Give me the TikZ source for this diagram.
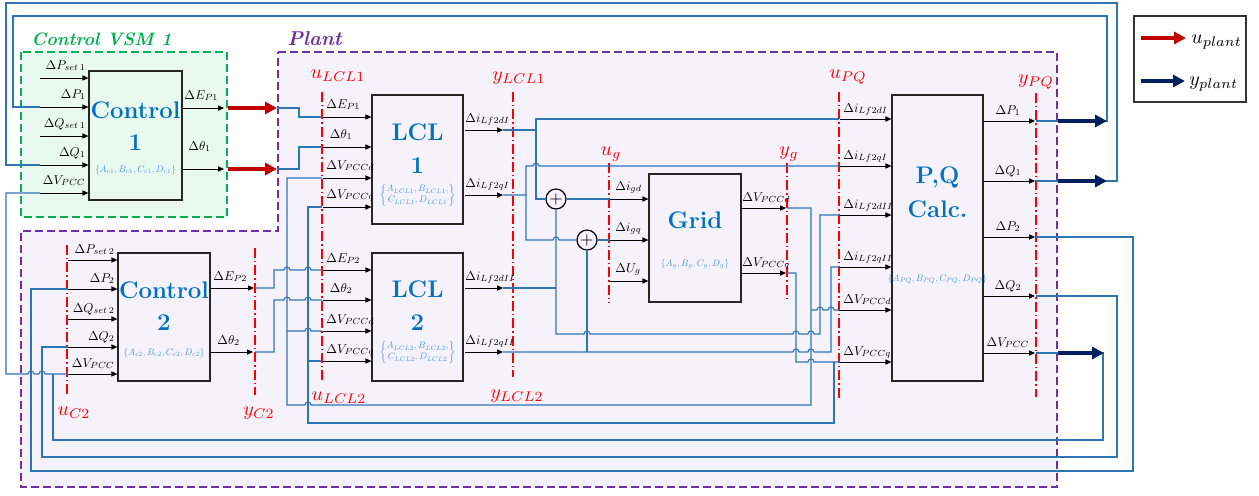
\documentclass[tikz,border=0pt]{standalone}
\usepackage{graphicx}
\usetikzlibrary{arrows.meta}
\definecolor{wireblue}{RGB}{46,117,182}
\definecolor{ttlblue}{RGB}{0,112,192}
\definecolor{parblue}{RGB}{74,150,215}
\definecolor{vsmgreen}{RGB}{0,176,80}
\definecolor{plantpurple}{RGB}{112,48,160}
\definecolor{uplant}{RGB}{192,0,0}
\definecolor{yplant}{RGB}{0,32,96}
\definecolor{greenfill}{RGB}{232,250,240}
\definecolor{purplefill}{RGB}{246,242,251}
\tikzset{
  blk/.style={draw=black!85, line width=0.6pt, inner sep=0pt},
  sig/.style={-{Triangle[length=3pt,width=2.6pt]}, line width=0.45pt},
  wire/.style={wireblue, line width=0.55pt},
  cutline/.style={red, line width=0.8pt, dash pattern=on 5pt off 1.5pt on 0.7pt off 1.5pt},
  cutlbl/.style={red, font=\fontsize{10}{11}\selectfont, anchor=base, inner sep=0pt},
  lbl/.style={inner sep=0pt},
  ttl/.style={ttlblue, font=\fontsize{12}{13}\selectfont\bfseries, anchor=base, inner sep=0pt},
  par/.style={parblue, inner sep=0pt},
  fat/.style={line width=2pt, -{Triangle[length=6pt,width=6pt]}},
  sumnode/.style={circle, draw, line width=0.6pt, fill=purplefill, minimum size=10pt, inner sep=0pt, font=\fontsize{8}{8}\selectfont},
}
% port label and parameter set, set small
\newcommand{\plab}[1]{\scalebox{0.64}{$#1$}}
\newcommand{\parset}[1]{\scalebox{0.47}{$#1$}}
% small hop over a crossing wire (left to right)
\newcommand{\hop}[2]{-- ({#1-3},#2) arc[start angle=180,end angle=0,radius=1.5pt]}
\begin{document}
\begin{tikzpicture}[x=0.5pt,y=-0.5pt]
  \useasboundingbox (0,0) rectangle (1259,495);
  % regions
  \fill[greenfill] (21,52) rectangle (227,217);
  \draw[vsmgreen, line width=0.9pt, dash pattern=on 4pt off 2pt] (21,52) rectangle (227,217);
  \fill[purplefill] (278,52) -- (1057,52) -- (1057,487) -- (21,487) -- (21,231) -- (278,231) -- cycle;
  \draw[plantpurple, line width=0.9pt, dash pattern=on 4pt off 2pt] (278,52) -- (1057,52) -- (1057,487) -- (21,487) -- (21,231) -- (278,231) -- cycle;
  \node[vsmgreen, font=\fontsize{10}{12}\selectfont\bfseries\itshape, anchor=base west, inner sep=0pt] (vsmttl) at (31,45) {\scalebox{0.9}{Control VSM 1}};
  \node[plantpurple, font=\fontsize{10}{12}\selectfont\bfseries\itshape, anchor=base west, inner sep=0pt] (plantttl) at (287,45) {Plant};

  % blocks
  \node[blk, fill=greenfill, minimum width=46.5pt, minimum height=64.5pt] (ctrlA) at (135.5,135.5) {};
  \node[blk, fill=purplefill, minimum width=46pt, minimum height=64pt] (ctrlB) at (164,317) {};
  \node[blk, fill=purplefill, minimum width=45.5pt, minimum height=64.5pt] (lclA) at (417.5,159.5) {};
  \node[blk, fill=purplefill, minimum width=45.5pt, minimum height=64pt] (lclB) at (417.5,317) {};
  \node[blk, fill=purplefill, minimum width=46pt, minimum height=64pt] (grid) at (695,238) {};
  \node[blk, fill=purplefill, minimum width=45.5pt, minimum height=143pt] (pq) at (937.5,238) {};
  \node[sumnode] (sumd) at (556,199) {$+$};
  \node[sumnode] (sumq) at (587,240) {$+$};

  \node[ttl] (ctrlAt) at (135.5,118) {Control};
  \node[ttl] (ctrlAn) at (135.5,150) {1};
  \node[par] (ctrlAp) at (135.5,170) {\parset{\{A_{c1},B_{c1},C_{c1},D_{c1}\}}};
  \node[ttl] (ctrlBt) at (164,298) {Control};
  \node[ttl] (ctrlBn) at (164,330) {2};
  \node[par] (ctrlBp) at (164,353) {\parset{\{A_{c2},B_{c2},C_{c2},D_{c2}\}}};
  \node[ttl] (lclAt) at (417.5,140) {LCL};
  \node[ttl] (lclAn) at (417.5,173) {1};
  \node[par] (lclAp) at (417.5,195) {\parset{\left\{\begin{array}{@{}c@{}}A_{LCL1},B_{LCL1},\\ C_{LCL1},D_{LCL1}\end{array}\right\}}};
  \node[ttl] (lclBt) at (417.5,297) {LCL};
  \node[ttl] (lclBn) at (417.5,330) {2};
  \node[par] (lclBp) at (417.5,352) {\parset{\left\{\begin{array}{@{}c@{}}A_{LCL2},B_{LCL2},\\ C_{LCL2},D_{LCL2}\end{array}\right\}}};
  \node[ttl] (gridt) at (695,228) {Grid};
  \node[par] (gridp) at (695,264) {\parset{\{A_g,B_g,C_g,D_g\}}};
  \node[ttl] (pqt) at (937.5,183) {P,Q};
  \node[ttl] (pqc) at (937.5,217) {Calc.};
  \node[par] (pqp) at (937.5,279) {\parset{\{A_{PQ},B_{PQ},C_{PQ},D_{PQ}\}}};

  % cut lines
  \draw[cutline] (67,245) -- (67,395);
  \draw[cutline] (255,248) -- (255,395);
  \draw[cutline] (322,92) -- (322,380);
  \draw[cutline] (513,92) -- (513,377);
  \draw[cutline] (609,163) -- (609,303);
  \draw[cutline] (787,163) -- (787,302);
  \draw[cutline] (839,92) -- (839,398);
  \draw[cutline] (1036,93) -- (1036,397);
  \node[cutlbl] (uctl) at (74,415) {$u_{C2}$};
  \node[cutlbl] (yctl) at (259,415) {$y_{C2}$};
  \node[cutlbl] (ulclA) at (338,78) {$u_{LCL1}$};
  \node[cutlbl] (ylclA) at (519,80) {$y_{LCL1}$};
  \node[cutlbl] (ulclB) at (339,400) {$u_{LCL2}$};
  \node[cutlbl] (ylclB) at (517,398) {$y_{LCL2}$};
  \node[cutlbl] (ugrid) at (611,155) {$u_g$};
  \node[cutlbl] (ygrid) at (789,155) {$y_g$};
  \node[cutlbl] (upq) at (848,78) {$u_{PQ}$};
  \node[cutlbl] (ypq) at (1036,83) {$y_{PQ}$};

  % wires
  \draw[wire] (277,108) -- (299,108) -- (299,117) -- (322,117);
  \draw[wire] (277,169) -- (299,169) -- (299,147) -- (322,147);
  \draw[wire] (1036,121) -- (1107,121) -- (1107,16) -- (13,16) -- (13,107) -- (40,107);
  \draw[wire] (1036,181) -- (1117,181) -- (1117,3) -- (6,3) -- (6,165) -- (40,165);
  \draw[wire] (1036,237) -- (1133,237) -- (1133,471) -- (31,471) -- (31,289) -- (68,289);
  \draw[wire] (1036,296) -- (1117,296) -- (1117,457) -- (42,457) -- (42,347) -- (68,347);
  \draw[wire] (1036,353) -- (1103,353) -- (1103,440) -- (53,440) -- (53,374);
  \draw[wire] (40,193) -- (6,193) -- (6,374) \hop{31}{374} \hop{42}{374} -- (68,374);
  \draw[wire] (255,288) -- (274,288) -- (274,270) \hop{287}{270} \hop{308}{270} -- (322,270);
  \draw[wire] (255,352) -- (274,352) -- (274,300) \hop{287}{300} \hop{308}{300} -- (322,300);
  \draw[wire] (322,178) -- (287,178) -- (287,405) \hop{308}{405} -- (811,405) -- (811,208) -- (787,208);
  \draw[wire] (287,331) \hop{308}{331} -- (322,331);
  \draw[wire] (811,310) \hop{820}{310} \hop{831}{310} -- (839,310);
  \draw[wire] (787,273) -- (796,273) -- (796,362) \hop{811}{362} -- (839,362);
  \draw[wire] (322,207) -- (308,207) -- (308,423) -- (834,423) -- (834,362);
  \draw[wire] (308,361) -- (322,361);
  \draw[wire] (503,130) -- (536,130) -- (536,119) -- (839,119);
  \draw[wire] (536,130) -- (536,199) -- (sumd.west);
  \draw[wire] (503,195) -- (526,195) -- (526,166) \hop{536}{166} -- (839,166);
  \draw[wire] (526,195) -- (526,240) \hop{556}{240} -- (sumq.west);
  \draw[wire] (sumd.east) -- (609,199);
  \draw[wire] (sumq.east) -- (609,240);
  \draw[wire] (sumd.south) -- (556,334) \hop{587}{334} \hop{796}{334} \hop{811}{334} -- (820,334) -- (820,215) -- (839,215);
  \draw[wire] (503,288) -- (556,288);
  \draw[wire] (503,352) \hop{796}{352} \hop{811}{352} -- (831,352) -- (831,267) -- (839,267);
  \draw[wire] (sumq.south) -- (587,352);

  % plant input / output arrows
  \draw[fat, uplant] (228,108) -- (277,108);
  \draw[fat, uplant] (228,169) -- (277,169);
  \draw[fat, yplant] (1058,121) -- (1107,121);
  \draw[fat, yplant] (1058,181) -- (1107,181);
  \draw[fat, yplant] (1058,353) -- (1104,353);

  % Control 1 ports
  \foreach \yy/\lab [count=\k] in {78/{\Delta P_{set\,1}}, 107/{\Delta P_1}, 136/{\Delta Q_{set\,1}}, 165/{\Delta Q_1}, 193/{\Delta V_{PCC}}}{
    \draw[sig] (40,\yy) -- (ctrlA.west |- 0,\yy);
    \node[lbl, anchor=base east] (inA\k) at (86,\yy-9) {\plab{\lab}};
  }
  \draw[sig] (ctrlA.east |- 0,108) -- (224,108);
  \node[lbl, anchor=base west] (outA1) at (184,99) {\plab{\Delta E_{P1}}};
  \draw[sig] (ctrlA.east |- 0,169) -- (224,169);
  \node[lbl, anchor=base west] (outA2) at (188,150) {\plab{\Delta\theta_1}};

  % Control 2 ports
  \foreach \yy/\lab [count=\k] in {260/{\Delta P_{set\,2}}, 289/{\Delta P_2}, 319/{\Delta Q_{set\,2}}, 347/{\Delta Q_2}, 374/{\Delta V_{PCC}}}{
    \draw[sig] (68,\yy) -- (ctrlB.west |- 0,\yy);
    \node[lbl, anchor=base east] (inB\k) at (115,\yy-7) {\plab{\lab}};
  }
  \draw[sig] (ctrlB.east |- 0,288) -- (254,288);
  \node[lbl, anchor=base west] (outB1) at (213,280) {\plab{\Delta E_{P2}}};
  \draw[sig] (ctrlB.east |- 0,352) -- (253,352);
  \node[lbl, anchor=base west] (outB2) at (217,344) {\plab{\Delta\theta_2}};

  % LCL ports
  \foreach \yy/\lab [count=\k] in {117/{\Delta E_{P1}}, 147/{\;\Delta\theta_1}, 178/{\Delta V_{PCCd}}, 207/{\Delta V_{PCCq}}}{
    \draw[sig] (323,\yy) -- (lclA.west |- 0,\yy);
    \node[lbl, anchor=base west] (inL\k) at (326,\yy-9) {\plab{\lab}};
  }
  \foreach \yy/\lab [count=\k] in {270/{\Delta E_{P2}}, 300/{\;\Delta\theta_2}, 331/{\Delta V_{PCCd}}, 361/{\Delta V_{PCCq}}}{
    \draw[sig] (323,\yy) -- (lclB.west |- 0,\yy);
    \node[lbl, anchor=base west] (inM\k) at (326,\yy-8) {\plab{\lab}};
  }
  \foreach \yy/\lab [count=\k] in {130/{\Delta i_{Lf2dI}}, 195/{\Delta i_{Lf2qI}}, 288/{\Delta i_{Lf2dII}}, 352/{\Delta i_{Lf2qII}}}{
    \draw[sig] (465,\yy) -- (503,\yy);
    \node[lbl, anchor=base west] (outL\k) at (465,\yy-8) {\plab{\lab}};
  }

  % Grid ports
  \foreach \yy/\lab [count=\k] in {199/{\Delta i_{gd}}, 240/{\Delta i_{gq}}, 281/{\Delta U_g}}{
    \draw[sig] (610,\yy) -- (grid.west |- 0,\yy);
    \node[lbl, anchor=base west] (inG\k) at (615,\yy-9) {\plab{\lab}};
  }
  \foreach \yy/\lab [count=\k] in {208/{\Delta V_{PCCd}}, 273/{\Delta V_{PCCq}}}{
    \draw[sig] (grid.east |- 0,\yy) -- (786,\yy);
    \node[lbl, anchor=base west] (outG\k) at (742,\yy-7) {\plab{\lab}};
  }

  % P,Q ports
  \foreach \yy/\lab [count=\k] in {119/{\Delta i_{Lf2dI}}, 166/{\Delta i_{Lf2qI}}, 215/{\Delta i_{Lf2dII}}, 267/{\Delta i_{Lf2qII}}, 310/{\Delta V_{PCCd}}, 362/{\Delta V_{PCCq}}}{
    \draw[sig] (840,\yy) -- (pq.west |- 0,\yy);
    \node[lbl, anchor=base west] (inP\k) at (843,\yy-7) {\plab{\lab}};
  }
  \foreach \yy/\lab [count=\k] in {121/{\Delta P_1}, 181/{\Delta Q_1}, 237/{\Delta P_2}, 296/{\Delta Q_2}, 353/{\Delta V_{PCC}}}{
    \draw[sig] (pq.east |- 0,\yy) -- (1035,\yy);
    \node[lbl, anchor=base] (outP\k) at (1008,\yy-7) {\plab{\lab}};
  }

  % legend
  \node[draw=black!80, line width=0.6pt, fill=white, minimum width=56pt, minimum height=43pt] (legend) at (1190,59) {};
  \draw[fat, uplant] (1141,38) -- (1186,38);
  \node[font=\fontsize{10}{11}\selectfont, anchor=base west, inner sep=0pt] (legu) at (1191,43) {$u_{plant}$};
  \draw[fat, yplant] (1141,81) -- (1185,81);
  \node[font=\fontsize{10}{11}\selectfont, anchor=base west, inner sep=0pt] (legy) at (1189,85) {$y_{plant}$};
\end{tikzpicture}
\end{document}
